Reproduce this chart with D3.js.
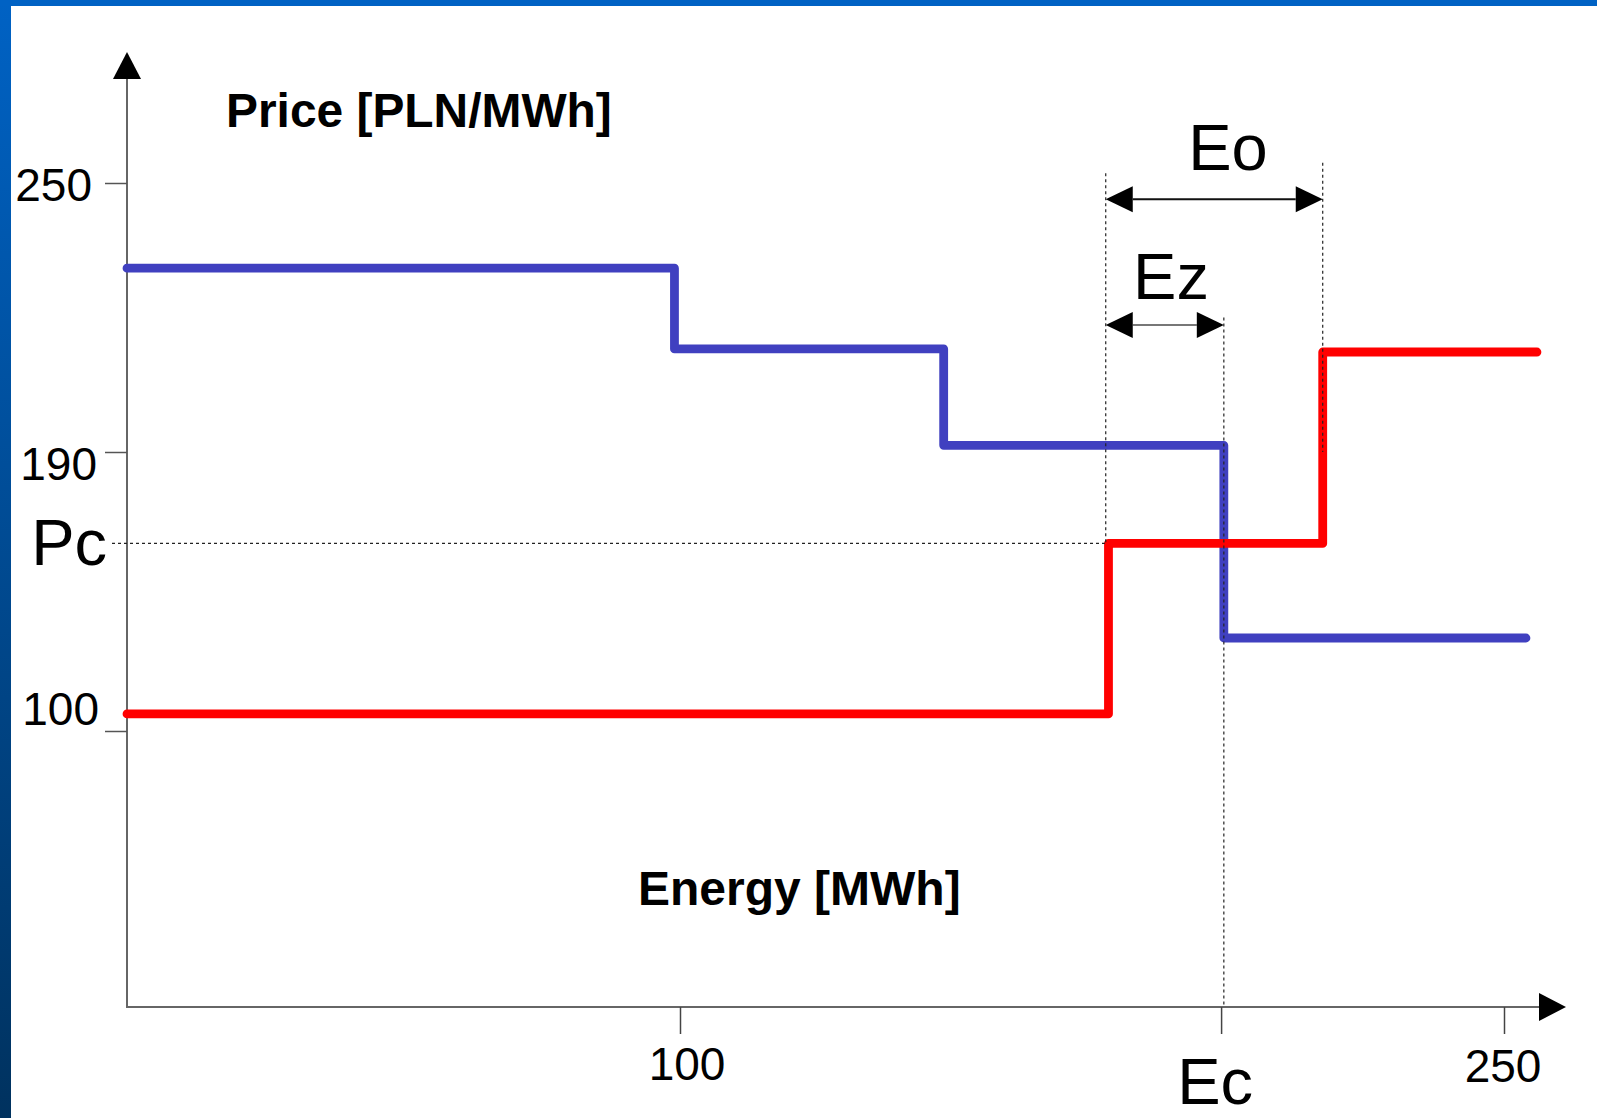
<!DOCTYPE html>
<html>
<head>
<meta charset="utf-8">
<script src="https://cdn.jsdelivr.net/npm/d3@7"></script>
<style>
  html, body { margin: 0; padding: 0; background: #fff; }
  svg { display: block; }
  text { font-family: "Liberation Sans", Arial, sans-serif; fill: #000; }
</style>
</head>
<body>
<svg id="chart" width="1597" height="1118"></svg>
<script>
// ---- data ----
const demandEnergy = [0, 99, 148, 199, 254];        // MWh breakpoints (blue)
const demandPrice  = [231, 213, 191.5, 130, 130];   // PLN/MWh
const supplyEnergy = [0, 178, 217, 256];            // MWh breakpoints (red)
const supplyPrice  = [105.5, 160.5, 212.3, 212.3];  // PLN/MWh
const yTicks = [100, 190, 250];
const yTickLabels = ["100", "190", "250"];
const xTicks = [100, 198.5, 250];
const xTickLabels = ["100", "Ec", "250"];
const Pc = 160.5;
const Ec = 199;
const EoRange = [177.5, 217];
const EzRange = [177.5, 199];

// ---- layout ----
const W = 1597, H = 1118;
const svg = d3.select("#chart");

// frame: top bar + left gradient bar
const defs = svg.append("defs");
const grad = defs.append("linearGradient").attr("id", "leftbar")
  .attr("x1", 0).attr("y1", 0).attr("x2", 0).attr("y2", 1);
grad.append("stop").attr("offset", "0%").attr("stop-color", "#0062c4");
grad.append("stop").attr("offset", "100%").attr("stop-color", "#00325f");
svg.append("rect").attr("x", 0).attr("y", 0).attr("width", W).attr("height", H).attr("fill", "#fff");
svg.append("rect").attr("x", 0).attr("y", 0).attr("width", 11).attr("height", H).attr("fill", "url(#leftbar)");
svg.append("rect").attr("x", 0).attr("y", 0).attr("width", W).attr("height", 6).attr("fill", "#0062c4");

// scales (schematic, piecewise linear as in the picture)
const x = d3.scaleLinear().domain([0, 100, 250]).range([127, 680, 1504]);
const y = d3.scaleLinear().domain([11, 100, 190, 250]).range([1007, 731, 452, 183]);

const x0 = 127, y0 = 1007;
const axisColor = "#666";

// axes lines with arrows
svg.append("line").attr("x1", x0).attr("y1", y0).attr("x2", x0).attr("y2", 78)
  .attr("stroke", axisColor).attr("stroke-width", 2);
svg.append("path").attr("d", `M${x0},52 L${x0 - 14},79 L${x0 + 14},79 Z`).attr("fill", "#000");
svg.append("line").attr("x1", x0 - 1).attr("y1", y0).attr("x2", 1540).attr("y2", y0)
  .attr("stroke", axisColor).attr("stroke-width", 2);
svg.append("path").attr("d", `M1566,${y0} L1539,${y0 - 14} L1539,${y0 + 14} Z`).attr("fill", "#000");

// y ticks
const yAxis = d3.axisLeft(y).tickValues(yTicks).tickSize(22).tickFormat("");
const gy = svg.append("g").attr("transform", `translate(${x0},0)`).call(yAxis);
gy.select(".domain").remove();
gy.selectAll(".tick line").attr("stroke", "#555").attr("stroke-width", 1.5);

// y tick labels (placed as in the picture)
const yLabelDy = [-6, 28, 18];
const yLabelRight = [99, 97, 92];
svg.selectAll("text.ylab").data(yTicks).enter().append("text")
  .attr("class", "ylab")
  .attr("x", (d, i) => yLabelRight[i])
  .attr("y", (d, i) => y(d) + yLabelDy[i])
  .attr("text-anchor", "end")
  .attr("font-size", 46)
  .text((d, i) => yTickLabels[i]);

// x ticks
const xAxis = d3.axisBottom(x).tickValues(xTicks).tickSize(27).tickFormat("");
const gx = svg.append("g").attr("transform", `translate(0,${y0})`).call(xAxis);
gx.select(".domain").remove();
gx.selectAll(".tick line").attr("stroke", "#444").attr("stroke-width", 1.5);

const xLabelDx = [7, -6, -1];
const xLabelBase = [1080, 1104, 1082];
const xLabelSize = [46, 65, 46];
svg.selectAll("text.xlab").data(xTicks).enter().append("text")
  .attr("class", "xlab")
  .attr("x", (d, i) => x(d) + xLabelDx[i])
  .attr("y", (d, i) => xLabelBase[i])
  .attr("text-anchor", "middle")
  .attr("font-size", (d, i) => xLabelSize[i])
  .text((d, i) => xTickLabels[i]);

// Pc label
svg.append("text").attr("x", 107).attr("y", y(Pc) + 22)
  .attr("text-anchor", "end").attr("font-size", 65).text("Pc");

// axis titles
svg.append("text").attr("x", 226).attr("y", 127)
  .attr("font-size", 47.9).attr("font-weight", "bold").text("Price [PLN/MWh]");
svg.append("text").attr("x", 638).attr("y", 905)
  .attr("font-size", 48).attr("font-weight", "bold").text("Energy [MWh]");

// step curves
const line = d3.line().x(d => x(d[0])).y(d => y(d[1])).curve(d3.curveStepAfter);
const demand = demandEnergy.map((e, i) => [e, demandPrice[i]]);
const supply = supplyEnergy.map((e, i) => [e, supplyPrice[i]]);

svg.append("path").attr("d", line(demand)).attr("fill", "none")
  .attr("stroke", "#4040c0").attr("stroke-width", 8.8)
  .attr("stroke-linejoin", "round").attr("stroke-linecap", "round");
svg.append("path").attr("d", line(supply)).attr("fill", "none")
  .attr("stroke", "#ff0000").attr("stroke-width", 8.8)
  .attr("stroke-linejoin", "round").attr("stroke-linecap", "round");

// dotted guide lines
const dot = { stroke: "#222", w: 1.2, dash: "3,3" };
function dotted(x1, y1, x2, y2) {
  svg.append("line").attr("x1", x1).attr("y1", y1).attr("x2", x2).attr("y2", y2)
    .attr("stroke", dot.stroke).attr("stroke-width", dot.w).attr("stroke-dasharray", dot.dash);
}
dotted(112, y(Pc), x(EoRange[0]), y(Pc));
dotted(x(EoRange[0]), y(252.2), x(EoRange[0]), y(Pc));
dotted(x(EoRange[1]), y(254.5), x(EoRange[1]), y(190));
dotted(x(Ec), y(220), x(Ec), y0);

// double-headed arrows
function dblArrow(xa, xb, yy, color) {
  const L = 27, hw = 13;
  svg.append("line").attr("x1", xa + L).attr("y1", yy).attr("x2", xb - L).attr("y2", yy)
    .attr("stroke", color).attr("stroke-width", 2);
  svg.append("path").attr("d", `M${xa},${yy} L${xa + L},${yy - hw} L${xa + L},${yy + hw} Z`).attr("fill", "#000");
  svg.append("path").attr("d", `M${xb},${yy} L${xb - L},${yy - hw} L${xb - L},${yy + hw} Z`).attr("fill", "#000");
}
dblArrow(x(EoRange[0]), x(EoRange[1]), y(246.4), "#111");
dblArrow(x(EzRange[0]), x(EzRange[1]), y(218.3), "#777");

svg.append("text").attr("x", 1228).attr("y", y(253)).attr("text-anchor", "middle")
  .attr("font-size", 65).text("Eo");
svg.append("text").attr("x", 1171).attr("y", y(224.1)).attr("text-anchor", "middle")
  .attr("font-size", 65).text("Ez");
</script>
</body>
</html>
